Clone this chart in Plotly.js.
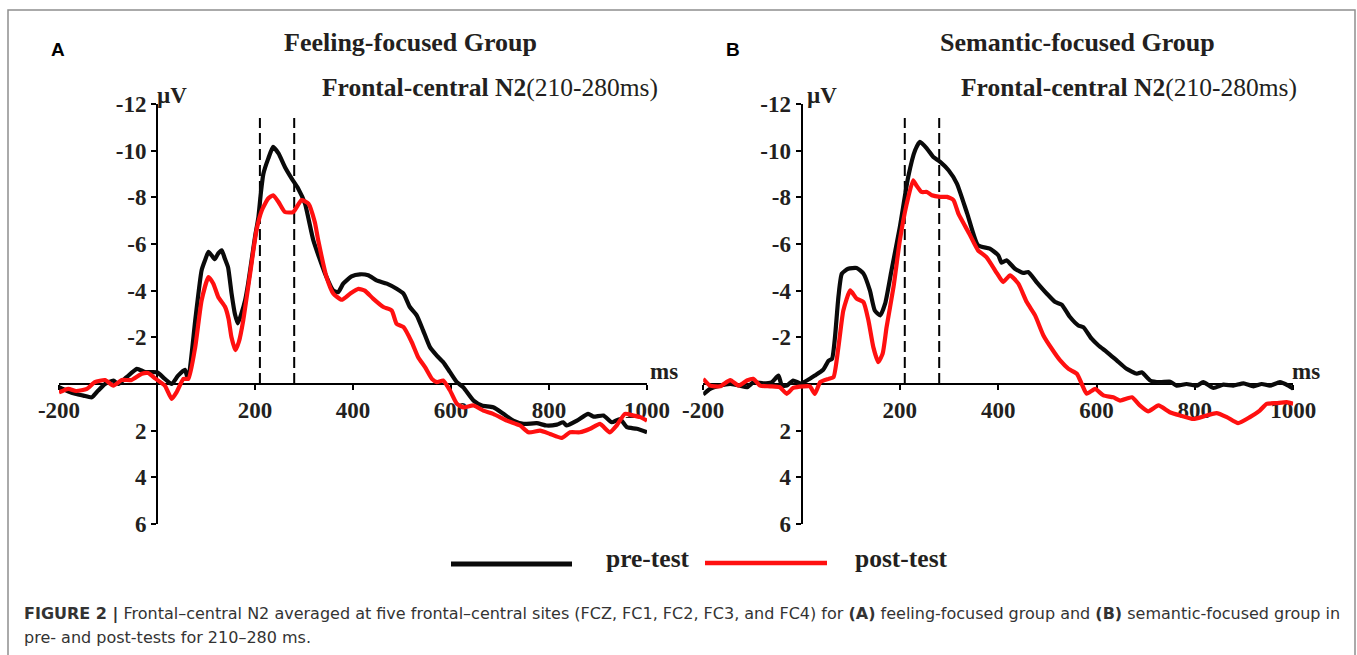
<!DOCTYPE html>
<html>
<head>
<meta charset="utf-8">
<script src="https://cdn.plot.ly/plotly-3.0.1.min.js"></script>
<style>
html,body{margin:0;padding:0;background:#fff;}
#chart{width:1357px;height:655px;}
</style>
</head>
<body>
<div id="chart"></div>
<script>
// ---------- DATA ----------
const panelLetters = ["A", "B"];
const panelTitles = ["Feeling-focused Group", "Semantic-focused Group"];
const componentTitle = "Frontal-central N2";
const windowLabel = "(210-280ms)";
const seriesNames = ["pre-test", "post-test"];
const n2Window = [210, 280];

const xTickVals = [-200, 200, 400, 600, 800, 1000];
const xTickText = ["-200", "200", "400", "600", "800", "1000"];
const yTickVals = [-12, -10, -8, -6, -4, -2, 2, 4, 6];
const yTickText = ["-12", "-10", "-8", "-6", "-4", "-2", "2", "4", "6"];

// Panel A – feeling-focused, pre-test (black)
const feelPreTime = [-200,-183,-167,-150,-133,-120,-106,-89,-79,-62,-41,-24,0,16,30,43,57,62,66,78,91,98,105,112,118,125,132,138,145,152,159,165,172,180,186,193,200,207,212,217,227,237,248,261,275,288,302,319,343,360,370,380,397,414,431,448,469,489,503,516,530,543,557,571,584,598,612,625,646,663,686,707,727,748,775,795,816,829,836,857,880,891,911,928,945,959,979,1000];
const feelPreVal  = [0.14,0.3,0.42,0.5,0.57,0.28,0,-0.15,0,-0.29,-0.65,-0.51,-0.5,-0.22,0,-0.36,-0.61,-0.3,-0.5,-2.72,-4.87,-5.3,-5.66,-5.5,-5.35,-5.6,-5.73,-5.4,-5.0,-3.9,-3.0,-2.6,-3.0,-3.6,-4.3,-5.3,-6.3,-7.16,-8.2,-9.0,-9.66,-10.16,-9.88,-9.3,-8.8,-8.38,-7.73,-6.16,-4.73,-4.0,-3.94,-4.3,-4.61,-4.7,-4.66,-4.44,-4.3,-4.08,-3.87,-3.3,-2.94,-2.3,-1.58,-1.22,-0.94,-0.51,-0.08,0.14,0.71,0.92,1.0,1.28,1.57,1.71,1.68,1.78,1.74,1.64,1.78,1.57,1.28,1.4,1.35,1.64,1.5,1.85,1.92,2.07];

// Panel A – feeling-focused, post-test (red)
const feelPostTime = [-200,-181,-165,-143,-127,-106,-89,-72,-52,-31,-18,-4,16,30,40,54,64,78,91,105,115,125,139,146,152,160,167,176,190,203,214,227,237,248,261,278,295,309,322,329,346,360,377,394,411,424,441,462,479,489,503,520,533,547,561,571,584,598,612,625,646,666,686,714,741,758,782,802,826,843,863,884,904,924,938,955,972,986,1000];
const feelPostVal  = [0.36,0.21,0.3,0.21,-0.08,-0.17,0.07,-0.17,-0.17,-0.44,-0.47,-0.24,0.07,0.64,0.35,-0.22,-0.22,-1.58,-3.58,-4.58,-4.3,-3.73,-3.3,-2.8,-2.0,-1.45,-1.8,-2.73,-4.73,-6.59,-7.45,-7.95,-8.09,-7.8,-7.37,-7.37,-7.88,-7.73,-6.94,-6.16,-4.58,-3.87,-3.61,-3.87,-4.08,-4.0,-3.66,-3.3,-3.15,-2.58,-2.44,-1.79,-1.15,-0.72,-0.22,-0.08,-0.15,0.28,0.85,1.0,0.92,1.14,1.28,1.57,1.78,2.07,2.0,2.14,2.31,2.07,2.07,1.92,1.71,2.07,1.78,1.28,1.35,1.42,1.57];

// Panel B – semantic-focused, pre-test (black)
const semPreTime = [-200,-186,-166,-145,-125,-111,-98,-78,-61,-47,-40,-30,-17,-3,11,27,44,55,62,68,75,82,95,112,126,139,149,160,170,183,200,217,231,241,255,268,282,299,316,337,359,383,400,407,417,434,451,461,478,499,516,529,546,563,573,590,604,621,641,661,682,692,709,729,750,763,783,804,817,838,858,878,899,919,936,953,973,990,1000];
const semPreVal  = [0.45,0.21,0.07,0,0.07,0.14,-0.07,-0.03,-0.07,-0.36,0.07,0.07,-0.15,-0.03,-0.15,-0.36,-0.61,-1.0,-1.08,-2.0,-3.73,-4.73,-4.94,-4.97,-4.73,-4.01,-3.15,-2.94,-3.44,-4.87,-6.73,-8.88,-10.02,-10.38,-10.09,-9.73,-9.52,-9.16,-8.59,-7.3,-5.94,-5.8,-5.52,-5.2,-5.3,-4.94,-4.76,-4.8,-4.37,-3.87,-3.51,-3.4,-2.87,-2.51,-2.44,-1.94,-1.65,-1.37,-1.01,-0.65,-0.44,-0.5,-0.15,-0.08,-0.1,0.07,0,0.07,-0.08,0.17,0.03,0.07,-0.03,0.1,0,0.07,-0.08,0.07,0.2];

// Panel B – semantic-focused, post-test (red)
const semPostTime = [-200,-186,-166,-145,-128,-111,-98,-84,-64,-44,-30,-17,4,17,27,38,55,65,75,85,99,112,126,136,146,156,165,173,187,200,214,227,234,244,255,265,282,296,309,319,341,359,376,398,410,424,441,458,475,492,509,526,543,560,570,580,597,614,634,648,672,688,705,726,749,770,797,824,844,865,888,912,932,946,966,987,1000];
const semPostVal  = [-0.22,0.07,0.1,-0.17,0.07,-0.15,-0.22,0.07,0.1,0.14,0.42,0.17,0.1,0.1,0.42,-0.08,-0.22,-0.29,-1.58,-3.15,-4.01,-3.66,-3.51,-2.73,-1.58,-0.94,-1.3,-2.44,-4.15,-6.16,-7.73,-8.73,-8.5,-8.23,-8.23,-8.09,-8.02,-8.02,-7.88,-7.3,-6.45,-5.73,-5.44,-4.73,-4.37,-4.66,-4.3,-3.51,-2.94,-2.08,-1.51,-1.01,-0.65,-0.44,0,0.42,0.21,0.49,0.57,0.71,0.57,0.92,1.17,0.92,1.21,1.35,1.5,1.35,1.25,1.42,1.68,1.42,1.14,0.85,0.82,0.78,0.85];

// ---------- LAYOUT HELPERS ----------
const W = 1357, H = 655;
const px = v => v / W;
const py = v => 1 - v / H;
const xRange = [-200, 1000];
const yRange = [6, -12];
const textColor = "#231f20";
const serif = "Liberation Serif, Times New Roman, serif";
const sans = "Liberation Sans, Arial, sans-serif";

const xDomA = [px(59), px(647)];
const xDomB = [px(703.2), px(1293.2)];
const yDom = [py(524), py(104)];

function posOfX(dom, v) { return dom[0] + (v - xRange[0]) / (xRange[1] - xRange[0]) * (dom[1] - dom[0]); }
function posOfY(dom, v) { return dom[0] + (yRange[0] - v) / (yRange[0] - yRange[1]) * (dom[1] - dom[0]); }

const tickFont = {family: serif, size: 23, color: textColor, weight: "bold"};

function xAxis(dom) {
  return {
    domain: dom, range: xRange, anchor: "free", position: posOfY(yDom, 0),
    tickmode: "array", tickvals: xTickVals, ticktext: xTickText,
    ticks: "outside", ticklen: 5, tickwidth: 2, tickcolor: "#000",
    showline: true, linewidth: 2, linecolor: "#000",
    showgrid: false, zeroline: false, layer: "below traces",
    tickfont: tickFont, fixedrange: true
  };
}
function yAxis(xdom) {
  return {
    domain: yDom, range: yRange, anchor: "free", position: posOfX(xdom, 0),
    tickmode: "array", tickvals: yTickVals, ticktext: yTickText,
    ticks: "outside", ticklen: 5, tickwidth: 2, tickcolor: "#000",
    showline: true, linewidth: 2, linecolor: "#000",
    showgrid: false, zeroline: false, layer: "below traces",
    tickfont: tickFont, fixedrange: true
  };
}

const preColor = "#0a0a0a";
const postColor = "#ff1010";
function trace(x, y, name, color, xa, ya) {
  return {x: x, y: y, name: name, type: "scatter", mode: "lines",
    line: {color: color, width: 4.2, shape: "spline", smoothing: 0.5},
    xaxis: xa, yaxis: ya, showlegend: false, hoverinfo: "skip"};
}

const traces = [
  trace(feelPreTime, feelPreVal, seriesNames[0], preColor, "x", "y"),
  trace(feelPostTime, feelPostVal, seriesNames[1], postColor, "x", "y"),
  trace(semPreTime, semPreVal, seriesNames[0], preColor, "x2", "y2"),
  trace(semPostTime, semPostVal, seriesNames[1], postColor, "x2", "y2")
];

const shapes = [];
// N2 window dashed lines
[["x","y"],["x2","y2"]].forEach(([xa, ya]) => {
  n2Window.forEach(t => {
    shapes.push({type: "line", xref: xa, yref: ya, x0: t, x1: t, y0: 0, y1: -11.4,
      line: {color: "#000", width: 2, dash: "11px,5px"}, layer: "below"});
  });
});
// outer frame
shapes.push({type: "rect", xref: "paper", yref: "paper", x0: px(8), x1: px(1355), y0: -0.05, y1: py(10),
  line: {color: "#8f8f8f", width: 1.5}, layer: "below"});
// legend samples
shapes.push({type: "line", xref: "paper", yref: "paper", x0: px(451), x1: px(572), y0: py(564), y1: py(564),
  line: {color: preColor, width: 5}});
shapes.push({type: "line", xref: "paper", yref: "paper", x0: px(705), x1: px(827), y0: py(563), y1: py(563),
  line: {color: postColor, width: 4.5}});

function ann(text, x, y, font, xanchor) {
  return {text: text, x: x, y: y, xref: "paper", yref: "paper", showarrow: false,
    xanchor: xanchor || "center", yanchor: "middle", font: font, align: "left"};
}
const titleFont = {family: serif, size: 26, color: textColor, weight: "bold"};
const subFont = {family: serif, size: 25.5, color: textColor};
const unitFont = {family: serif, size: 23, color: textColor, weight: "bold"};
const letterFont = {family: sans, size: 19, color: "#000", weight: "bold"};
const legFont = {family: serif, size: 25.5, color: textColor, weight: "bold"};
const capFont = {family: "DejaVu Sans, Liberation Sans, sans-serif", size: 16, color: "#333"};

const annotations = [
  ann(panelLetters[0], px(57.5), py(49), letterFont),
  ann(panelLetters[1], px(733), py(49), letterFont),
  ann(panelTitles[0], px(410), py(43), titleFont),
  ann(panelTitles[1], px(1077), py(43), titleFont),
  ann("<b>" + componentTitle + "</b>" + windowLabel, px(490), py(88), subFont),
  ann("<b>" + componentTitle + "</b>" + windowLabel, px(1129), py(88), subFont),
  ann("µV", px(172), py(96), unitFont),
  ann("µV", px(822), py(96), unitFont),
  ann("ms", px(664), py(371), unitFont),
  ann("ms", px(1306), py(371), unitFont),
  ann(seriesNames[0], px(648), py(558), legFont),
  ann(seriesNames[1], px(901), py(558), legFont),
  ann("<b>FIGURE 2 |</b> Frontal–central N2 averaged at five frontal–central sites (FCZ, FC1, FC2, FC3, and FC4) for <b>(A)</b> feeling-focused group and <b>(B)</b> semantic-focused group in",
      px(22), py(614), capFont, "left"),
  ann("pre- and post-tests for 210–280 ms.", px(22), py(637), capFont, "left")
];

const layout = {
  width: W, height: H,
  margin: {l: 0, r: 0, t: 0, b: 0},
  paper_bgcolor: "#fff", plot_bgcolor: "rgba(0,0,0,0)",
  showlegend: false,
  xaxis: xAxis(xDomA), yaxis: yAxis(xDomA),
  xaxis2: xAxis(xDomB), yaxis2: yAxis(xDomB),
  shapes: shapes, annotations: annotations
};

Plotly.newPlot("chart", traces, layout, {displayModeBar: false, staticPlot: true});
</script>
</body>
</html>
